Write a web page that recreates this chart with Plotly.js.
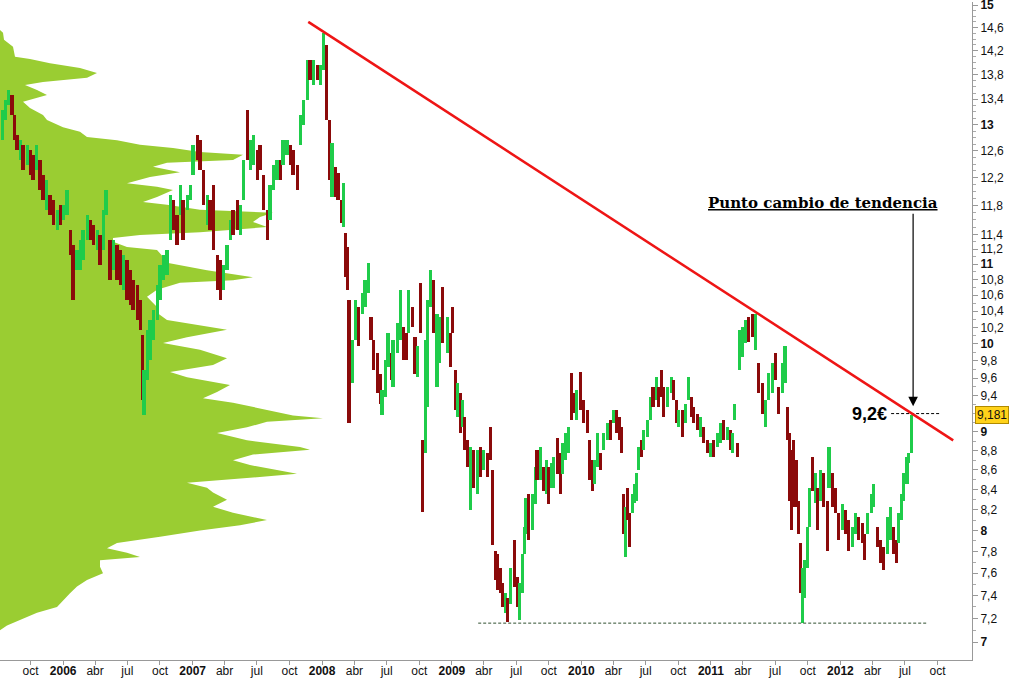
<!DOCTYPE html>
<html>
<head>
<meta charset="utf-8">
<script src="https://cdn.plot.ly/plotly-3.0.1.min.js"></script>
<style>
  html, body { margin: 0; padding: 0; background: #ffffff; }
  #chart { width: 1013px; height: 681px; }
</style>
</head>
<body>
<div id="chart"></div>
<script>
// ---------------- DATA ----------------
// Price bars (range of each period), G = up (green), R = down (red)
const barDates = [
'2005-07-13','2005-07-22','2005-07-30','2005-08-10','2005-08-16','2005-08-24','2005-09-02','2005-09-10','2005-09-22','2005-09-30',
'2005-10-08','2005-10-17','2005-10-28','2005-11-05','2005-11-14','2005-11-25','2005-12-04','2005-12-15','2005-12-24','2006-01-01',
'2006-01-12','2006-01-21','2006-01-29','2006-02-09','2006-02-18','2006-02-26','2006-03-10','2006-03-18','2006-03-27','2006-04-07',
'2006-04-15','2006-04-24','2006-05-02','2006-05-13','2006-05-22','2006-06-02','2006-06-11','2006-06-19','2006-06-30','2006-07-09',
'2006-07-17','2006-07-29','2006-08-06','2006-08-12','2006-08-17','2006-08-26','2006-09-03','2006-09-12','2006-09-23','2006-10-01',
'2006-10-10','2006-10-21','2006-10-30','2006-11-07','2006-11-18','2006-11-27','2006-12-05','2006-12-17','2006-12-25','2007-01-02',
'2007-01-14','2007-01-22','2007-01-31','2007-02-11','2007-02-19','2007-02-28','2007-03-11','2007-03-20','2007-03-28','2007-04-08',
'2007-04-17','2007-04-25','2007-05-07','2007-05-15','2007-05-24','2007-06-04','2007-06-12','2007-06-21','2007-07-02','2007-07-10',
'2007-07-19','2007-07-30','2007-08-07','2007-08-16','2007-08-27','2007-09-05','2007-09-13','2007-09-24','2007-10-03','2007-10-11',
'2007-10-23','2007-10-31','2007-11-09','2007-11-20','2007-11-28','2007-12-07','2007-12-18','2007-12-27','2008-01-04','2008-01-13',
'2008-01-21','2008-01-29','2008-02-07','2008-02-15','2008-02-24','2008-03-01','2008-03-06','2008-03-12','2008-03-17','2008-03-26',
'2008-04-03','2008-04-12','2008-04-23','2008-05-01','2008-05-10','2008-05-18','2008-05-24','2008-06-04','2008-06-13','2008-06-18',
'2008-06-27','2008-07-05','2008-07-14','2008-07-19','2008-07-31','2008-08-08','2008-08-17','2008-08-25','2008-08-31','2008-09-11',
'2008-09-19','2008-09-25','2008-10-04','2008-10-09','2008-10-18','2008-10-23','2008-11-01','2008-11-09','2008-11-20','2008-11-26',
'2008-12-05','2008-12-19','2008-12-27','2009-01-02','2009-01-10','2009-01-16','2009-01-24','2009-01-30','2009-02-05','2009-02-13',
'2009-02-22','2009-03-02','2009-03-13','2009-03-22','2009-03-31','2009-04-11','2009-04-19','2009-04-25','2009-05-03','2009-05-09',
'2009-05-17','2009-05-23','2009-06-01','2009-06-06','2009-06-14','2009-06-26','2009-07-04','2009-07-10','2009-07-18','2009-07-24',
'2009-07-29','2009-08-04','2009-08-15','2009-08-24','2009-08-29','2009-09-07','2009-09-15','2009-09-24','2009-09-30','2009-10-08',
'2009-10-14','2009-10-25','2009-11-02','2009-11-08','2009-11-17','2009-11-25','2009-12-03','2009-12-09','2009-12-17','2009-12-29',
'2010-01-06','2010-01-17','2010-01-23','2010-02-01','2010-02-06','2010-02-15','2010-02-23','2010-03-04','2010-03-15','2010-03-23',
'2010-04-01','2010-04-09','2010-04-18','2010-04-23','2010-04-29','2010-05-05','2010-05-10','2010-05-16','2010-05-24','2010-05-30',
'2010-06-05','2010-06-10','2010-06-19','2010-06-24','2010-07-06','2010-07-14','2010-07-22','2010-07-31','2010-08-06','2010-08-14',
'2010-08-20','2010-08-31','2010-09-11','2010-09-17','2010-09-25','2010-10-01','2010-10-12','2010-10-21','2010-10-29','2010-11-07',
'2010-11-12','2010-11-24','2010-12-02','2010-12-11','2010-12-22','2010-12-30','2011-01-08','2011-01-19','2011-01-28','2011-02-05',
'2011-02-16','2011-02-25','2011-03-02','2011-03-08','2011-03-17','2011-03-22','2011-03-31','2011-04-08','2011-04-17','2011-04-28',
'2011-05-06','2011-05-15','2011-05-26','2011-06-03','2011-06-12','2011-06-23','2011-07-01','2011-07-10','2011-07-21','2011-07-29',
'2011-08-04','2011-08-10','2011-08-16','2011-08-21','2011-08-30','2011-09-04','2011-09-10','2011-09-16','2011-09-21','2011-09-30',
'2011-10-05','2011-10-14','2011-10-22','2011-10-28','2011-11-05','2011-11-14','2011-11-25','2011-11-30','2011-12-09','2011-12-18',
'2011-12-26','2012-01-06','2012-01-15','2012-01-23','2012-02-04','2012-02-12','2012-02-20','2012-03-03','2012-03-08','2012-03-17',
'2012-03-28','2012-04-03','2012-04-14','2012-04-22','2012-05-01','2012-05-12','2012-05-21','2012-05-29','2012-06-07','2012-06-12',
'2012-06-21','2012-06-26','2012-07-07','2012-07-10','2012-07-19'
];
const barHigh = [
13.23,13.39,13.55,13.47,13.15,12.84,12.76,12.69,12.69,12.61,
12.54,12.69,12.46,12.24,12.17,11.95,11.88,11.74,11.81,11.81,
12.02,11.46,11.26,11.19,11.32,11.46,11.67,11.60,11.53,11.46,
11.39,11.74,12.02,11.32,11.32,11.26,11.19,11.12,11.06,10.92,
10.79,10.73,10.54,10.11,9.69,10.17,10.29,10.41,10.73,10.99,
11.12,11.19,11.95,11.88,11.67,12.09,11.88,11.95,12.09,12.69,
12.84,12.76,12.31,11.95,11.88,12.09,11.12,11.06,10.99,11.26,
11.60,11.74,11.88,11.81,12.46,13.23,12.76,12.84,12.61,12.69,
12.24,11.74,12.09,12.39,12.46,12.46,12.76,12.76,12.69,12.61,
12.39,13.15,13.39,14.05,14.05,14.05,13.96,13.96,14.51,14.30,
13.07,12.72,12.36,12.27,11.88,12.12,11.42,11.23,10.54,10.05,
10.54,10.45,10.63,10.79,11.01,10.33,10.05,9.89,9.65,9.46,
9.81,10.13,9.89,10.05,10.25,10.67,10.20,10.13,10.67,10.45,
10.08,9.97,10.75,8.91,10.05,10.54,10.92,10.79,10.37,10.33,
10.71,10.33,10.13,10.45,9.69,9.54,9.43,9.35,9.16,8.91,
8.84,8.81,8.81,8.84,8.81,8.78,9.05,8.60,7.81,7.78,
7.65,7.51,7.42,7.38,7.65,7.91,7.57,7.51,7.78,8.03,
8.32,8.36,8.36,8.63,8.81,8.84,8.63,8.70,8.63,8.67,
8.73,8.94,8.78,8.88,8.99,9.05,9.66,9.43,9.46,9.67,
9.35,9.24,8.91,8.70,8.70,8.99,8.78,8.99,9.10,9.13,
9.24,9.24,9.16,9.05,8.36,8.23,8.42,8.17,8.36,8.46,
8.57,8.84,8.91,9.02,9.13,9.38,9.50,9.61,9.50,9.69,
9.50,9.50,9.61,9.58,9.35,9.24,9.24,9.31,9.61,9.38,
9.27,9.20,9.16,9.05,8.91,8.88,8.91,8.99,9.10,9.13,
9.05,9.02,8.99,9.31,8.88,10.17,10.20,10.29,10.33,10.37,
10.37,9.77,9.54,9.35,9.66,9.77,9.89,9.50,9.77,9.97,
9.27,8.99,8.81,8.91,8.70,8.29,7.88,7.65,7.72,8.03,
8.42,8.73,8.57,8.42,8.60,8.57,8.29,8.84,8.57,8.42,
8.17,8.26,8.20,8.10,8.03,8.17,8.13,8.07,7.97,8.17,
8.36,8.46,8.03,7.91,7.84,8.13,8.23,8.03,7.91,8.17,
8.36,8.57,8.73,8.78,9.181
];
const barLow = [
12.76,13.07,13.31,13.15,12.76,12.61,12.46,12.31,12.39,12.24,
12.17,12.31,12.02,11.88,11.74,11.67,11.53,11.46,11.53,11.60,
11.67,11.12,10.54,10.92,10.92,11.06,11.32,11.32,11.26,11.19,
10.99,11.19,11.67,10.79,10.92,10.79,10.73,10.67,10.54,10.48,
10.41,10.29,10.17,9.35,9.18,9.58,9.81,10.05,10.29,10.54,
10.79,10.86,11.32,11.46,11.26,11.67,11.32,11.74,11.88,12.24,
12.46,12.31,11.81,11.53,11.46,11.19,10.67,10.54,10.67,10.92,
11.32,11.39,11.46,11.39,11.88,12.46,12.31,12.39,12.17,12.31,
11.74,11.32,11.60,12.02,12.17,12.17,12.39,12.54,12.39,12.24,
12.02,12.69,12.99,13.39,13.71,13.63,13.71,13.63,13.88,13.07,
12.17,11.92,11.92,11.88,11.56,11.50,10.83,10.67,9.10,9.54,
10.05,9.97,10.37,10.45,10.63,10.05,9.69,9.43,9.31,9.18,
9.38,9.73,9.58,9.50,9.89,10.05,9.81,9.81,10.13,10.20,
9.65,9.61,10.13,8.18,8.78,9.27,10.45,10.13,9.50,9.77,
10.01,9.89,9.73,10.13,9.24,9.16,8.99,9.05,8.81,8.63,
8.20,8.42,8.36,8.53,8.60,8.53,8.70,7.86,7.54,7.45,
7.42,7.30,7.25,7.17,7.33,7.48,7.30,7.19,7.42,7.78,
7.97,7.91,8.00,8.26,8.50,8.50,8.39,8.36,8.26,8.42,
8.42,8.56,8.36,8.56,8.70,8.78,9.13,9.21,9.13,9.24,
9.10,8.99,8.50,8.39,8.46,8.63,8.60,8.81,8.91,8.91,
9.10,8.99,8.91,8.78,7.97,7.75,8.10,7.84,8.17,8.27,
8.29,8.60,8.73,8.81,8.95,9.13,9.27,9.35,9.27,9.38,
9.16,9.27,9.43,9.35,9.10,9.05,8.95,9.10,9.35,9.16,
9.10,9.02,8.95,8.88,8.78,8.73,8.73,8.84,8.88,8.91,
8.91,8.81,8.78,9.13,8.73,9.69,9.85,10.01,10.02,10.08,
9.93,9.43,9.20,9.05,9.35,9.43,9.58,9.20,9.43,9.54,
8.91,8.29,8.00,8.23,8.23,7.97,7.42,7.16,7.38,7.65,
8.03,8.39,8.27,8.00,8.29,8.23,7.81,8.42,8.23,8.17,
7.91,8.00,7.97,7.81,7.84,7.97,7.91,7.88,7.72,7.97,
8.17,8.23,7.84,7.69,7.63,7.78,7.91,7.78,7.69,7.88,
8.10,8.29,8.46,8.67,8.78
];
const barDir = (
'GGGRRRGRGR' + 'RGRRGRRGRG' + 'GRRGGGGRRG' + 'RGGRGRRGRR' + 'RRRRGGGGGG' +
'GGGRRGRGGG' + 'RRRGRRRRGG' + 'GRRGGRGGRR' + 'RRGGGRGGRR' + 'RGGGRGRGGR' +
'RGRRRGRRRG' + 'GRGGGRRRRG' + 'GGRGGGRRGR' + 'RGRRGGGRGG' + 'RGRRRGRGRR' +
'GRGRGRRRRR' + 'RRGRGRRGGG' + 'GRGGRGRGRG' + 'GRRGGGRRGR' + 'RRRRGGRGGR' +
'GRRRRGRRGG' + 'GGRGGGRGRR' + 'RGGRRGRGGR' + 'RRGRRGRGGR' + 'GRGGRGGGRR' +
'GRRGGGRRGG' + 'RRRRRRRGGG' + 'GRGRGRRGRR' + 'RGRRGGRRRG' + 'GGRRRGGRRG' +
'GGGGG').split('');

// Volume-at-price profile (price level, relative volume)
const profPrice = [14.56,14.51,14.39,14.27,14.10,14.06,13.99,13.91,13.83,13.75,13.68,13.63,13.55,13.47,13.36,13.26,13.15,13.07,12.96,12.89,
12.81,12.76,12.69,12.64,12.58,12.54,12.46,12.42,12.36,12.28,12.21,12.12,12.07,12.02,11.92,11.85,11.81,11.74,11.70,11.64,
11.57,11.50,11.43,11.39,11.35,11.30,11.23,11.19,11.10,11.02,10.92,10.83,10.79,10.76,10.67,10.58,10.45,10.38,10.29,10.20,
10.17,10.08,10.01,9.93,9.83,9.75,9.67,9.61,9.52,9.44,9.37,9.32,9.24,9.18,9.15,9.11,9.05,8.99,8.91,8.84,
8.81,8.76,8.70,8.65,8.60,8.56,8.52,8.47,8.42,8.37,8.30,8.23,8.17,8.10,8.05,8.00,7.94,7.88,7.83,7.79,
7.75,7.72,7.66,7.60,7.54,7.48,7.42,7.36,7.30,7.25,7.19,7.14,7.10];
const profVol = [0,3,4,13,15,30,50,80,97,87,43,25,37,47,23,30,43,47,63,80,
87,117,140,173,200,243,233,167,153,180,150,127,157,173,157,143,167,200,273,260,
253,267,200,140,113,113,127,157,163,167,207,253,233,180,157,147,157,157,167,213,
227,187,163,200,227,213,170,187,230,217,203,233,267,293,323,267,247,217,247,300,
310,253,233,250,277,297,250,187,207,213,227,213,233,267,240,200,160,117,107,127,
140,100,100,103,87,77,70,63,57,37,20,7,0];

// Resistance trendline, levels and last price
const trendDates = ['2007-11-23', '2012-11-14'];
const trendPrices = [14.70, 8.91];
const supportDates = ['2009-03-16', '2012-09-02'];
const supportLevel = 7.16;
const breakDates = ['2012-05-23', '2012-10-09'];
const breakLevel = 9.2;
const lastPrice = 9.181;
const arrowDate = '2012-07-24';

// Axis ticks
const xTickVals = ['2005-10-01','2006-01-01','2006-04-01','2006-07-01','2006-10-01','2007-01-01','2007-04-01','2007-07-01','2007-10-01',
'2008-01-01','2008-04-01','2008-07-01','2008-10-01','2009-01-01','2009-04-01','2009-07-01','2009-10-01','2010-01-01','2010-04-01',
'2010-07-01','2010-10-01','2011-01-01','2011-04-01','2011-07-01','2011-10-01','2012-01-01','2012-04-01','2012-07-01','2012-10-01'];
const xTickText = ['oct','<b>2006</b>','abr','jul','oct','<b>2007</b>','abr','jul','oct',
'<b>2008</b>','abr','jul','oct','<b>2009</b>','abr','jul','oct','<b>2010</b>','abr',
'jul','oct','<b>2011</b>','abr','jul','oct','<b>2012</b>','abr','jul','oct'];
const yTickVals = [7,7.2,7.4,7.6,7.8,8,8.2,8.4,8.6,8.8,9,9.4,9.6,9.8,10,10.2,10.4,10.6,10.8,11,11.2,11.4,11.8,12.2,12.6,13,13.4,13.8,14.2,14.6,15];
const yTickText = ['<b>7</b>','7,2','7,4','7,6','7,8','<b>8</b>','8,2','8,4','8,6','8,8','<b>9</b>','9,4','9,6','9,8','<b>10</b>','10,2','10,4','10,6','10,8','<b>11</b>','11,2','11,4','11,8','12,2','12,6','<b>13</b>','13,4','13,8','14,2','14,6','<b>15</b>'];

// ---------------- BUILD ----------------
const n = Math.min(barDates.length, barHigh.length, barLow.length, barDir.length);
const bx = [], bbase = [], bsize = [], bcol = [];
for (let i = 0; i < n; i++) {
  bx.push(barDates[i]);
  bbase.push(barLow[i]);
  bsize.push(barHigh[i] - barLow[i]);
  bcol.push(barDir[i] === 'G' ? '#1fcc4a' : '#8b0a0a');
}
const minorVals = [];
for (let k = 70; k <= 150; k++) minorVals.push(k / 10);

const traces = [
  { // volume profile on the base (linear) x axis, drawn underneath
    type: 'scatter', mode: 'lines', x: profVol, y: profPrice,
    xaxis: 'x', yaxis: 'y', fill: 'tozerox', fillcolor: '#9acd32',
    line: { width: 0, color: '#9acd32' }, hoverinfo: 'skip', showlegend: false
  },
  { // price bars
    type: 'bar', x: bx, y: bsize, base: bbase, xaxis: 'x2', yaxis: 'y',
    width: 9 * 86400000, marker: { color: bcol, line: { width: 0 } },
    hoverinfo: 'skip', showlegend: false
  },
  { // support line
    type: 'scatter', mode: 'lines', x: supportDates, y: [supportLevel, supportLevel],
    xaxis: 'x2', yaxis: 'y', line: { color: '#2f4f2f', width: 1, dash: '3px,2px' },
    hoverinfo: 'skip', showlegend: false
  },
  { // breakout level line
    type: 'scatter', mode: 'lines', x: breakDates, y: [breakLevel, breakLevel],
    xaxis: 'x2', yaxis: 'y', line: { color: '#000000', width: 1, dash: '3px,2px' },
    hoverinfo: 'skip', showlegend: false
  },
  { // trendline
    type: 'scatter', mode: 'lines', x: trendDates, y: trendPrices,
    xaxis: 'x2', yaxis: 'y', line: { color: '#ee1515', width: 2.5 },
    hoverinfo: 'skip', showlegend: false
  }
];

const layout = {
  width: 1013, height: 681,
  margin: { l: 0, r: 41, t: 2, b: 21, pad: 0 },
  paper_bgcolor: '#ffffff', plot_bgcolor: '#ffffff',
  showlegend: false,
  bargap: 0,
  font: { family: 'Liberation Sans, Arial, sans-serif', size: 12, color: '#111111' },
  xaxis: { range: [0, 972], visible: false, fixedrange: true },
  xaxis2: {
    type: 'date', overlaying: 'x', anchor: 'y', side: 'bottom',
    range: ['2005-07-07', '2013-01-06'],
    tickmode: 'array', tickvals: xTickVals, ticktext: xTickText,
    ticks: 'outside', ticklen: 4, tickcolor: '#999999', tickwidth: 1,
    ticklabelstandoff: -4, ticklabeloverflow: 'allow',
    showline: true, linecolor: '#999999', linewidth: 1,
    showgrid: false, zeroline: false,
    tickfont: { size: 12, color: '#111111', family: 'Liberation Sans, Arial, sans-serif' }
  },
  yaxis: {
    type: 'log', side: 'right', anchor: 'x',
    range: [Math.log10(6.851), Math.log10(15.054)],
    tickmode: 'array', tickvals: yTickVals, ticktext: yTickText,
    ticks: 'outside', ticklen: 5, tickcolor: '#999999', tickwidth: 1,
    ticklabeloverflow: 'allow',
    showline: true, linecolor: '#999999', linewidth: 1,
    showgrid: false, zeroline: false,
    tickfont: { size: 12, color: '#111111', family: 'Liberation Sans, Arial, sans-serif' },
    minor: { tickmode: 'array', tickvals: minorVals, ticks: 'outside', ticklen: 3, tickcolor: '#aaaaaa', showgrid: false }
  },
  annotations: [
    { xref: 'paper', yref: 'paper', x: 823 / 972, y: (660 - 203) / 658, xanchor: 'center', yanchor: 'middle',
      text: '<b><u>Punto cambio de tendencia</u></b>', showarrow: false,
      font: { family: 'DejaVu Serif, serif', size: 15, color: '#000000' } },
    { xref: 'x2', yref: 'y', x: arrowDate, y: Math.log10(9.28), ax: 0, ay: -194, axref: 'pixel', ayref: 'pixel',
      text: '', showarrow: true, arrowhead: 2, arrowsize: 1.6, arrowwidth: 1.2, arrowcolor: '#000000' },
    { xref: 'x2', yref: 'y', x: breakDates[0], y: Math.log10(breakLevel), xanchor: 'right', yanchor: 'middle',
      text: '<b>9,2€</b>', showarrow: false, xshift: -2,
      font: { family: 'Liberation Sans, Arial, sans-serif', size: 18, color: '#000000' } },
    { xref: 'paper', yref: 'y', x: 1.0035, y: Math.log10(lastPrice), xanchor: 'left', yanchor: 'middle',
      text: '9,181', showarrow: false, bgcolor: '#ffd21a', bordercolor: '#b08a00', borderwidth: 1, borderpad: 1,
      font: { family: 'Liberation Sans, Arial, sans-serif', size: 12, color: '#111111' } }
  ]
};

Plotly.newPlot('chart', traces, layout, { staticPlot: true, displayModeBar: false });
</script>
</body>
</html>
